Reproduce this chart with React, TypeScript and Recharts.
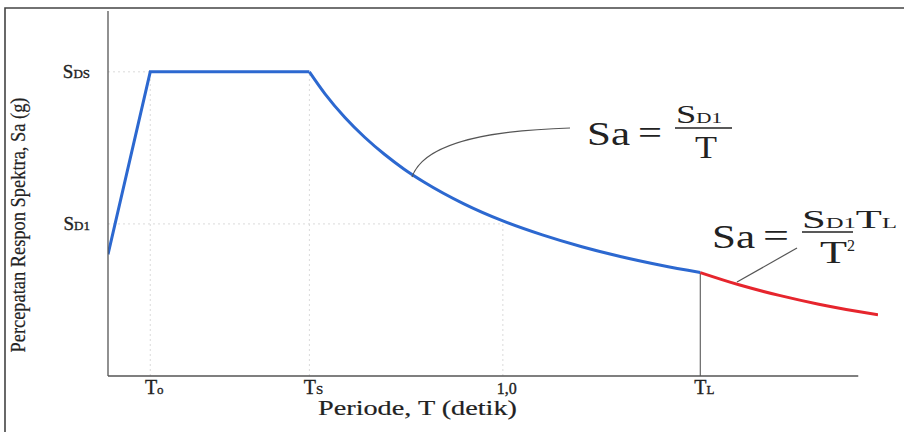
import React from 'react';
import { LineChart, Line, XAxis, YAxis, ReferenceLine } from 'recharts';

// design spectrum (Sa in units where SDS = 1)
const periodsRamp = [0, 0.107, 0.51];
const saRamp = [0.4, 1.0, 1.0];

const periodsDecay = [0.51, 0.55, 0.6, 0.65, 0.7, 0.75, 0.8, 0.9, 1.0, 1.1, 1.2, 1.3, 1.4, 1.5];
const saDecay = [1.0, 0.927, 0.85, 0.785, 0.729, 0.68, 0.638, 0.567, 0.51, 0.464, 0.425, 0.392, 0.364, 0.34];

const periodsLong = [1.5, 1.6, 1.7, 1.8, 1.9, 1.95];
const saLong = [0.34, 0.299, 0.265, 0.236, 0.212, 0.201];

const xTickValues = [0.107, 0.51, 1.0, 1.5];
const xTickLabels = [['T', 'o'], ['T', 'S'], ['1,0', ''], ['T', 'L']];
const yTickValues = [0.5, 1.0];
const yTickLabels = [['S', 'D1'], ['S', 'DS']];

const SERIF = '"Liberation Serif", "Times New Roman", serif';
const INK = '#222';
const BLUE = '#2c68d0';
const RED = '#e6252d';
const GRID = '#dadada';

const toPoints = (ts: number[], sas: number[]) => ts.map((t, i) => ({ t, sa: sas[i] }));

const rampData = toPoints(periodsRamp, saRamp);
const decayData = toPoints(periodsDecay, saDecay);
const longData = toPoints(periodsLong, saLong);

// the scan makes the lettering look a touch heavier than plain Times
const inked = { fill: INK, stroke: INK, strokeWidth: 0.35 };

function XTick(props: any) {
  const { x, y, payload } = props;
  const idx = xTickValues.indexOf(payload.value);
  if (idx < 0) return null;
  const [main, sub] = xTickLabels[idx];
  const isNum = sub === '';
  return (
    <text x={x + 4} y={y + 18} textAnchor="middle" fontFamily={SERIF} {...inked}>
      <tspan fontSize={isNum ? 16 : 20}>{main}</tspan>
      {sub && <tspan fontSize={13}>{sub}</tspan>}
    </text>
  );
}

function YTick(props: any) {
  const { x, y, payload } = props;
  const idx = yTickValues.indexOf(payload.value);
  if (idx < 0) return null;
  const [main, sub] = yTickLabels[idx];
  return (
    <text x={x - 18} y={y + 6} textAnchor="end" fontFamily={SERIF} {...inked}>
      <tspan fontSize={19}>{main}</tspan>
      <tspan fontSize={13}>{sub}</tspan>
    </text>
  );
}

function Annotations() {
  const stretch = { lengthAdjust: 'spacingAndGlyphs' as const };
  return (
    <svg
      width={904}
      height={432}
      style={{ position: 'absolute', left: 0, top: 0, pointerEvents: 'none' }}
    >
      {/* scan frame */}
      <path d="M5,432 L5,8 L904,8" stroke="#444" strokeWidth={1.6} fill="none" />

      {/* axis titles */}
      <text
        transform="rotate(-90)"
        x={-225}
        y={25}
        textAnchor="middle"
        fontSize={20}
        fontFamily={SERIF}
        textLength={255}
        {...inked}
        strokeWidth={0.2}
        {...stretch}
      >
        Percepatan Respon Spektra, Sa (g)
      </text>
      <text x={318} y={415} fontSize={22} fontFamily={SERIF} textLength={199} {...inked} strokeWidth={0.2} {...stretch}>
        Periode, T (detik)
      </text>

      {/* Sa = SD1 / T */}
      <path d="M412,177 C422,148 470,131 570,128" stroke="#555" strokeWidth={1.2} fill="none" />
      <g fontFamily={SERIF} fill={INK}>
        <text x={587} y={145} fontSize={33} textLength={43} {...stretch}>Sa</text>
        <text x={638} y={144} fontSize={33} textLength={24} {...stretch}>=</text>
        <text x={676} y={123} textLength={46} {...stretch}>
          <tspan fontSize={26}>S</tspan>
          <tspan fontSize={15}>D1</tspan>
        </text>
        <line x1={675} x2={732} y1={128} y2={128} stroke={INK} strokeWidth={1.6} />
        <text x={695} y={158} fontSize={32} textLength={22} {...stretch}>T</text>
      </g>

      {/* Sa = SD1 TL / T^2 */}
      <path d="M737,282 L797,248" stroke="#555" strokeWidth={1.2} fill="none" />
      <g fontFamily={SERIF} fill={INK}>
        <text x={712} y={248} fontSize={33} textLength={43} {...stretch}>Sa</text>
        <text x={763} y={247} fontSize={33} textLength={26} {...stretch}>=</text>
        <text x={802} y={228} textLength={95} {...stretch}>
          <tspan fontSize={26}>S</tspan>
          <tspan fontSize={15}>D1</tspan>
          <tspan fontSize={26}>T</tspan>
          <tspan fontSize={15}>L</tspan>
        </text>
        <line x1={802} x2={853} y1={232} y2={232} stroke={INK} strokeWidth={1.6} />
        <text x={820} y={263} fontSize={32} textLength={27} {...stretch}>T</text>
        <text x={847} y={251} fontSize={16}>2</text>
      </g>
    </svg>
  );
}

export default function App() {
  return (
    <div style={{ position: 'absolute', left: 0, top: 0, width: 904, height: 432, background: '#fff' }}>
      <LineChart width={904} height={432} margin={{ top: 11, right: 26, bottom: 0, left: 0 }}>
        <XAxis
          dataKey="t"
          type="number"
          domain={[0, 1.95]}
          ticks={xTickValues}
          tick={<XTick />}
          axisLine={false}
          tickLine={false}
          tickSize={0}
          tickMargin={0}
          height={56}
          allowDataOverflow
        />
        <YAxis
          type="number"
          domain={[0, 1.2]}
          ticks={yTickValues}
          tick={<YTick />}
          axisLine={{ stroke: '#555', strokeWidth: 1.3 }}
          tickLine={false}
          tickSize={0}
          tickMargin={0}
          width={108}
          allowDataOverflow
        />

        {/* faint construction lines */}
        <ReferenceLine segment={[{ x: 0, y: 1.0 }, { x: 0.107, y: 1.0 }]} stroke={GRID} strokeDasharray="2 3" />
        <ReferenceLine segment={[{ x: 0, y: 0.5 }, { x: 1.0, y: 0.5 }]} stroke={GRID} strokeDasharray="2 3" />
        <ReferenceLine segment={[{ x: 0.107, y: 0 }, { x: 0.107, y: 1.0 }]} stroke={GRID} strokeDasharray="2 3" />
        <ReferenceLine segment={[{ x: 0.51, y: 0 }, { x: 0.51, y: 1.0 }]} stroke={GRID} strokeDasharray="2 3" />
        <ReferenceLine segment={[{ x: 1.0, y: 0 }, { x: 1.0, y: 0.51 }]} stroke={GRID} strokeDasharray="2 3" />
        <ReferenceLine segment={[{ x: 1.5, y: 0 }, { x: 1.5, y: 0.34 }]} stroke="#666" strokeWidth={1.2} />
        {/* x axis stops short of the red tail */}
        <ReferenceLine segment={[{ x: 0, y: 0 }, { x: 1.9, y: 0 }]} stroke="#555" strokeWidth={1.3} />

        <Line data={rampData} dataKey="sa" type="linear" stroke={BLUE} strokeWidth={3} dot={false} isAnimationActive={false} />
        <Line data={decayData} dataKey="sa" type="monotone" stroke={BLUE} strokeWidth={3} dot={false} isAnimationActive={false} />
        <Line data={longData} dataKey="sa" type="monotone" stroke={RED} strokeWidth={3} dot={false} isAnimationActive={false} />
      </LineChart>
      <Annotations />
    </div>
  );
}
